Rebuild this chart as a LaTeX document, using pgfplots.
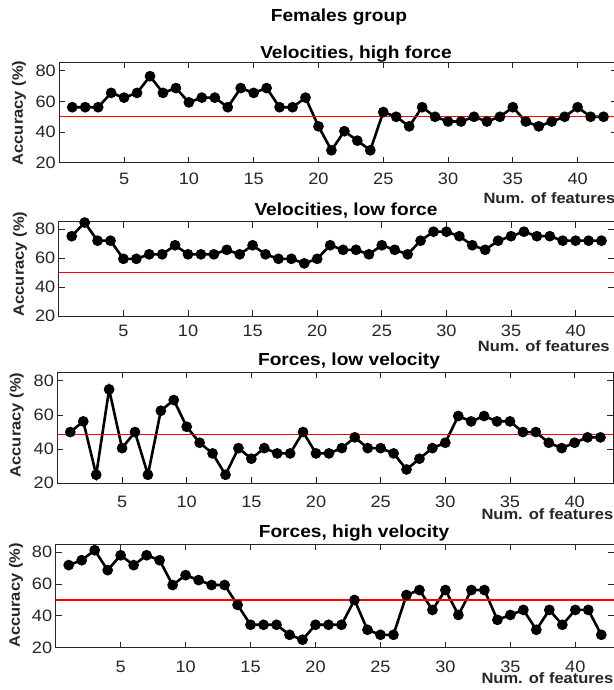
\documentclass[border=0pt]{standalone}
\usepackage{fontspec}
\setmainfont{Liberation Sans}[FakeStretch=1.1]
\usepackage{pgfplots}
\pgfplotsset{compat=1.18}
\definecolor{axgray}{rgb}{0.15,0.15,0.15}
\pgfplotsset{
  panel/.style={
    scale only axis, anchor=south west, clip=false,
    xmin=0, xmax=43, ymin=20, ymax=85,
    xtick={5,10,...,40}, ytick={20,40,60,80},
    tick align=inside, tick pos=both,
    major tick length=6pt,
    axis line style={axgray, line width=0.8pt},
    tick style={axgray, line width=0.8pt},
    ticklabel style={font=\fontsize{16.5}{18}\selectfont, text=axgray},
    /pgf/number format/assume math mode=true,
  },
  dat/.style={black, line width=2.6pt, mark=*, mark size=4pt, mark options={solid, fill=black}},
  chance/.style={red, line width=1.4pt},
}
\newcommand{\tfont}{\fontsize{17.4}{19}\selectfont\bfseries}
\newcommand{\lfont}{\fontsize{15}{17}\selectfont\bfseries}
\begin{document}
\begin{tikzpicture}
% Panel 1
\begin{axis}[panel, at={(59.3pt,527.3pt)}, width=557.2pt, height=100.4pt, ymax=85.6, xticklabel shift=7pt]
\addplot[dat] coordinates {(1,56.25)(2,56.25)(3,56.25)(4,65.6)(5,62.5)(6,65.6)(7,76.5)(8,65.6)(9,68.75)(10,59.4)(11,62.5)(12,62.5)(13,56.25)(14,68.75)(15,65.6)(16,68.75)(17,56.25)(18,56.25)(19,62.5)(20,43.75)(21,28.1)(22,40.6)(23,34.4)(24,28.1)(25,53.1)(26,50)(27,43.75)(28,56.25)(29,50)(30,46.9)(31,46.9)(32,50)(33,46.9)(34,50)(35,56.25)(36,46.9)(37,43.75)(38,46.9)(39,50)(40,56.25)(41,50)(42,50)};
\addplot[chance] coordinates {(0,50)(43,50)};
\end{axis}
% Panel 2
\begin{axis}[panel, at={(58.8pt,374pt)}, width=555.6pt, height=94.3pt, xticklabel shift=5.2pt]
\addplot[dat] coordinates {(1,75)(2,84.4)(3,71.9)(4,71.9)(5,59.4)(6,59.4)(7,62.5)(8,62.5)(9,68.75)(10,62.5)(11,62.5)(12,62.5)(13,65.6)(14,62.5)(15,68.75)(16,62.5)(17,59.4)(18,59.4)(19,56.25)(20,59.4)(21,68.75)(22,65.6)(23,65.6)(24,62.5)(25,68.75)(26,65.6)(27,62.5)(28,71.9)(29,78.1)(30,78.1)(31,75)(32,68.75)(33,65.6)(34,71.9)(35,75)(36,78.1)(37,75)(38,75)(39,71.9)(40,71.9)(41,71.9)(42,71.9)};
\addplot[chance] coordinates {(0,50)(43,50)};
\end{axis}
% Panel 3
\begin{axis}[panel, at={(57.4pt,206.7pt)}, width=556pt, height=111pt, xticklabel shift=9.5pt]
\addplot[dat] coordinates {(1,50)(2,56.25)(3,25)(4,75)(5,40.6)(6,50)(7,25)(8,62.5)(9,68.75)(10,53.1)(11,43.75)(12,37.5)(13,25)(14,40.6)(15,34.4)(16,40.6)(17,37.5)(18,37.5)(19,50)(20,37.5)(21,37.5)(22,40.6)(23,46.9)(24,40.6)(25,40.6)(26,37.5)(27,28.1)(28,34.4)(29,40.6)(30,43.75)(31,59.4)(32,56.25)(33,59.4)(34,56.25)(35,56.25)(36,50)(37,50)(38,43.75)(39,40.6)(40,43.75)(41,46.9)(42,46.9)};
\addplot[chance] coordinates {(0,48.6)(43,48.6)};
\end{axis}
% Panel 4
\begin{axis}[panel, at={(55.7pt,42.3pt)}, width=558.6pt, height=103.4pt, xticklabel shift=9.5pt]
\addplot[dat] coordinates {(1,71.9)(2,75)(3,81.25)(4,68.75)(5,78.1)(6,71.9)(7,78.1)(8,75)(9,59.4)(10,65.6)(11,62.5)(12,59.4)(13,59.4)(14,46.9)(15,34.4)(16,34.4)(17,34.4)(18,28.1)(19,25)(20,34.4)(21,34.4)(22,34.4)(23,50)(24,31.25)(25,28.1)(26,28.1)(27,53.1)(28,56.25)(29,43.75)(30,56.25)(31,40.6)(32,56.25)(33,56.25)(34,37.5)(35,40.6)(36,43.75)(37,31.25)(38,43.75)(39,34.4)(40,43.75)(41,43.75)(42,28.1)};
\addplot[chance] coordinates {(0,50)(43,50)};
\end{axis}
% Titles
\node[anchor=base west, font=\tfont, inner sep=0pt] at (270.7pt,668.3pt) {Females group};
\node[anchor=base, font=\tfont, inner sep=0pt] at (356pt,631.7pt) {Velocities, high force};
\node[anchor=base, font=\tfont, inner sep=0pt] at (346pt,474pt) {Velocities, low force};
\node[anchor=base, font=\tfont, inner sep=0pt] at (349pt,324pt) {Forces, low velocity};
\node[anchor=base, font=\tfont, inner sep=0pt] at (354pt,152.7pt) {Forces, high velocity};
% x labels
\node[anchor=base west, font=\lfont, text=axgray, inner sep=0pt] at (483.3pt,486.7pt) {Num. of features};
\node[anchor=base west, font=\lfont, text=axgray, inner sep=0pt] at (477.7pt,338.5pt) {Num. of features};
\node[anchor=base west, font=\lfont, text=axgray, inner sep=0pt] at (481.3pt,170pt) {Num. of features};
\node[anchor=base west, font=\lfont, text=axgray, inner sep=0pt] at (481.3pt,6pt) {Num. of features};
% y labels
\node[anchor=base, rotate=90, font=\lfont, text=axgray, inner sep=0pt] at (23pt,577pt) {Accuracy (\%)};
\node[anchor=base, rotate=90, font=\lfont, text=axgray, inner sep=0pt] at (24pt,426pt) {Accuracy (\%)};
\node[anchor=base, rotate=90, font=\lfont, text=axgray, inner sep=0pt] at (20.5pt,265pt) {Accuracy (\%)};
\node[anchor=base, rotate=90, font=\lfont, text=axgray, inner sep=0pt] at (20pt,94.5pt) {Accuracy (\%)};
\pgfresetboundingbox
\path[use as bounding box] (0pt,0pt) rectangle (613pt,690pt);
\end{tikzpicture}
\end{document}
